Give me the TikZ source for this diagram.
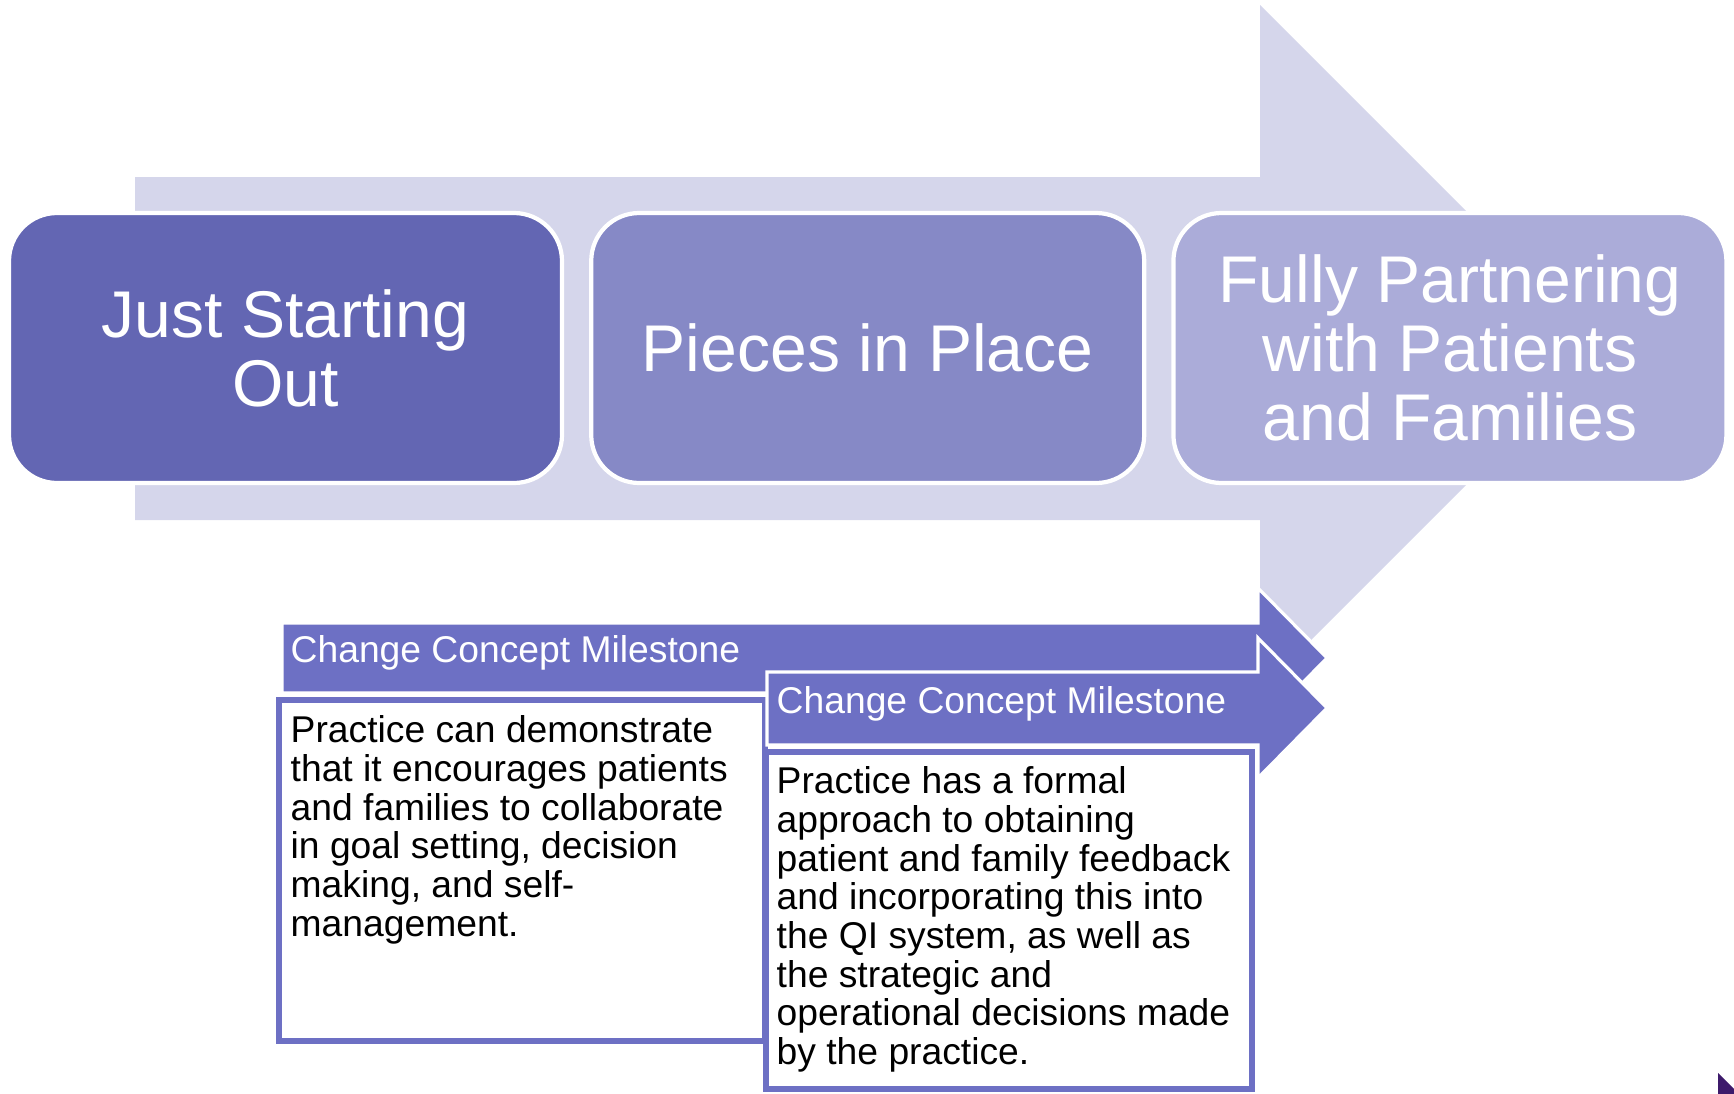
\documentclass[tikz,border=0pt]{standalone}
\usepackage{fontspec}
\setmainfont{Liberation Sans}
\usepackage{xcolor}
\usepackage{tikz}
\usetikzlibrary{positioning}

\definecolor{trackfill}{HTML}{D5D6EB}
\definecolor{stageA}{HTML}{6366B3}
\definecolor{stageB}{HTML}{8689C6}
\definecolor{stageC}{HTML}{ABACD9}
\definecolor{milefill}{HTML}{6D70C4}
\definecolor{cornerfill}{HTML}{3D1A6B}

\begin{document}
\begin{tikzpicture}[x=0.1mm, y=-0.1mm,
    stage/.style={rectangle, rounded corners=4.8mm, draw=white, line width=1.2pt, minimum width=55.3mm, minimum height=27mm, align=center, text=white, font=\fontsize{18.8}{19.6}\selectfont},
    mile/.style={fill=milefill, draw=white, line width=0.9pt, line join=miter},
    miletext/.style={anchor=base west, inner sep=0pt, text=white, font=\fontsize{10.6}{11}\selectfont},
    detailbox/.style={rectangle, draw=milefill, line width=1.7pt, fill=white, anchor=north west, inner sep=0pt, outer sep=0pt},
    detail/.style={anchor=north west, inner sep=0pt, align=left, text=black, font=\fontsize{10.6}{11}\selectfont}
]
\useasboundingbox (0,0) rectangle (1734,1093);

\fill[trackfill] (135,177) -- (1260,177) -- (1260,5) -- (1603,348) -- (1260,691) -- (1260,520) -- (135,520) -- cycle;

\node[stage, fill=stageA] (start) at (285.5,348) {Just Starting\\Out};
\node[stage, fill=stageB, right=2.5mm of start] (pieces) {Pieces in Place};
\node[stage, fill=stageC, right=2.5mm of pieces] (partner) {Fully Partnering\\with Patients\\and Families};

\draw[mile] (282,623) -- (1258,623) -- (1258,588) -- (1327,658) -- (1258,728) -- (1258,693) -- (282,693) -- cycle;
\node[miletext] (headA) at (290,662) {Change Concept Milestone};
\node[detailbox, minimum width=48.6mm, minimum height=34.1mm] (boxA) at (279,700) {};
\node[detail] (textA) at (290,715) {Practice can demonstrate\\that it encourages patients\\and families to collaborate\\in goal setting, decision\\making, and self-\\management.};

\draw[mile] (767,672) -- (1258,672) -- (1258,638) -- (1327,708) -- (1258,778) -- (1258,745) -- (767,745) -- cycle;
\node[miletext] (headB) at (776,713) {Change Concept Milestone};
\node[detailbox, minimum width=48.6mm, minimum height=33.7mm] (boxB) at (765.5,752) {};
\node[detail] (textB) at (776,766) {Practice has a formal\\approach to obtaining\\patient and family feedback\\and incorporating this into\\the QI system, as well as\\the strategic and\\operational decisions made\\by the practice.};

\fill[cornerfill] (1718,1073) -- (1740,1095) -- (1718,1095) -- cycle;
\end{tikzpicture}
\end{document}
